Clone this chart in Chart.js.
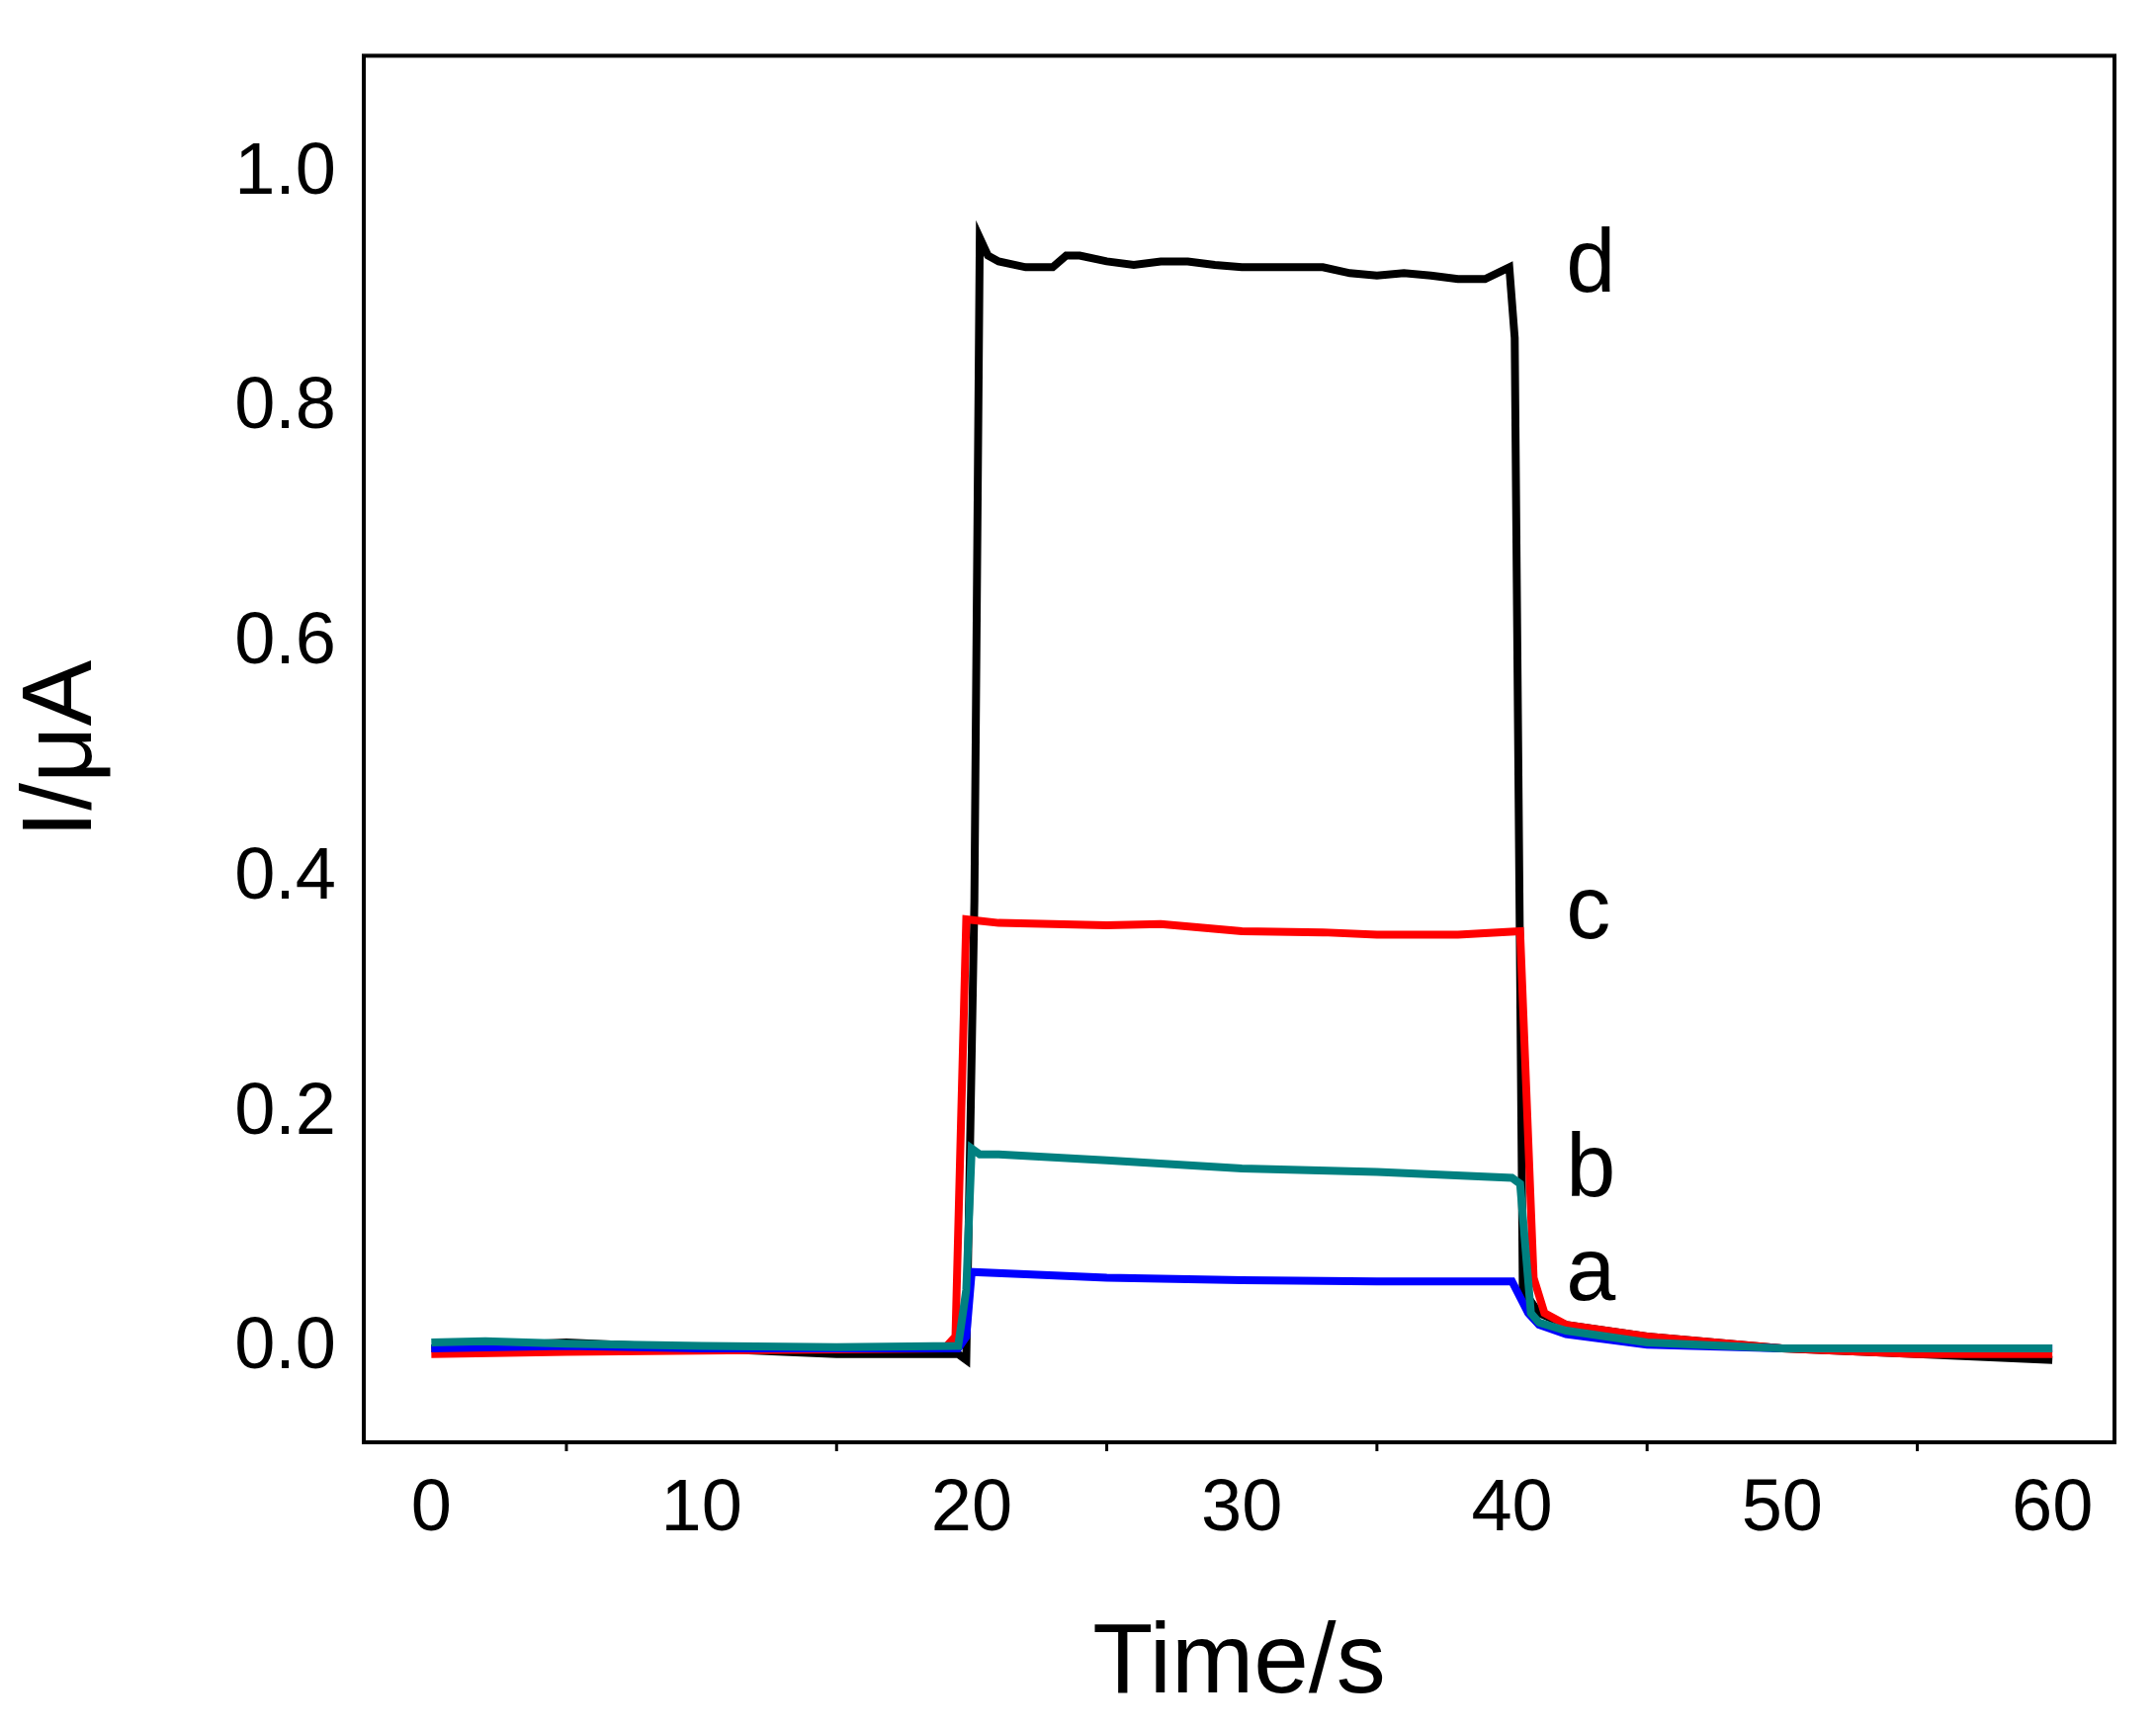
<!DOCTYPE html>
<html>
<head>
<meta charset="utf-8">
<script src="https://cdn.jsdelivr.net/npm/chart.js@4"></script>
<style>
  html, body { margin: 0; padding: 0; background: #fff; }
  #wrap { width: 2181px; height: 1748px; }
</style>
</head>
<body>
<div id="wrap"><canvas id="c" width="2181" height="1748"></canvas></div>
<script>
// --- data ---
const tA = [0, 5, 10, 15, 19.5, 19.8, 20, 22, 25, 30, 35, 40, 40.6, 41, 42, 45, 50, 55, 60];
const yA = [0, 0.002, 0, 0, 0, 0.01, 0.065, 0.063, 0.06, 0.058, 0.057, 0.057, 0.03, 0.02, 0.012, 0.003, 0, 0, 0];

const tB = [0, 2, 5, 10, 15, 19.5, 19.8, 20, 20.3, 21, 25, 30, 35, 40, 40.3, 40.7, 41, 42, 45, 50, 55, 60];
const yB = [0.005, 0.006, 0.004, 0.002, 0.001, 0.002, 0.05, 0.17, 0.165, 0.165, 0.16, 0.153, 0.15, 0.145, 0.14, 0.03, 0.022, 0.015, 0.005, 0, 0, 0];

const tC = [0, 5, 10, 15, 19, 19.4, 19.8, 21, 25, 27, 30, 33, 35, 38, 40.3, 40.8, 41.2, 42, 45, 50, 55, 60];
const yC = [-0.005, -0.003, -0.002, -0.001, 0, 0.01, 0.365, 0.362, 0.36, 0.361, 0.355, 0.354, 0.352, 0.352, 0.355, 0.06, 0.03, 0.02, 0.01, 0, -0.005, -0.005];

const tD = [0, 5, 10, 15, 19.5, 19.8, 20.1, 20.3, 20.6, 21, 22, 23, 23.5, 24, 25, 26, 27, 28, 29, 30, 31, 32, 33, 34, 35, 36, 37, 38, 39, 39.9, 40.1, 40.4, 41, 42, 45, 50, 55, 60];
const yD = [0, 0.005, 0, -0.005, -0.005, -0.01, 0.38, 0.945, 0.93, 0.925, 0.92, 0.92, 0.93, 0.93, 0.925, 0.922, 0.925, 0.925, 0.922, 0.92, 0.92, 0.92, 0.92, 0.915, 0.913, 0.915, 0.913, 0.91, 0.91, 0.92, 0.86, 0.05, 0.03, 0.02, 0.01, 0, -0.005, -0.01];

const curveLabels = [
  { text: 'd', x: 42, y: 0.92 },
  { text: 'c', x: 42, y: 0.37 },
  { text: 'b', x: 42, y: 0.15 },
  { text: 'a', x: 42, y: 0.062 }
];

const xTicks = [0, 10, 20, 30, 40, 50, 60];
const yTicks = [0.0, 0.2, 0.4, 0.6, 0.8, 1.0];

const FONT = '"Liberation Sans", Arial, sans-serif';
const pts = (t, y) => t.map((v, i) => ({ x: v, y: y[i] }));
const series = (label, t, y, color, order) => ({
  label, data: pts(t, y), borderColor: color, borderWidth: 8,
  pointRadius: 0, tension: 0, fill: false, order
});

// frame + minor ticks + curve letters
const extras = {
  id: 'extras',
  afterDraw(chart) {
    const { ctx, chartArea: a, scales: { x, y } } = chart;
    ctx.save();
    ctx.strokeStyle = '#000';
    ctx.lineWidth = 4;
    ctx.strokeRect(a.left, a.top, a.right - a.left, a.bottom - a.top);
    // minor x ticks
    ctx.lineWidth = 3;
    for (let v = 5; v < 60; v += 10) {
      const px = x.getPixelForValue(v);
      ctx.beginPath(); ctx.moveTo(px, a.bottom); ctx.lineTo(px, a.bottom + 9); ctx.stroke();
    }
    ctx.fillStyle = '#000';
    ctx.font = '90px ' + FONT;
    ctx.textBaseline = 'middle';
    curveLabels.forEach(l => ctx.fillText(l.text, x.getPixelForValue(l.x), y.getPixelForValue(l.y)));
    ctx.restore();
  }
};

new Chart(document.getElementById('c'), {
  type: 'line',
  data: {
    datasets: [
      series('a', tA, yA, '#0000ff', 2),
      series('b', tB, yB, '#008080', 1),
      series('c', tC, yC, '#ff0000', 3),
      series('d', tD, yD, '#000000', 4)
    ]
  },
  options: {
    responsive: false,
    animation: false,
    layout: { padding: { top: 10, right: 42 } },
    plugins: { legend: { display: false }, tooltip: { enabled: false } },
    scales: {
      x: {
        type: 'linear', min: -2.5, max: 62.3,
        afterBuildTicks: s => { s.ticks = xTicks.map(v => ({ value: v })); },
        afterFit: s => { s.height = 289; },
        grid: { display: false, drawOnChartArea: false, drawTicks: true, tickLength: 16, tickWidth: 4, tickColor: '#000' },
        border: { display: false },
        ticks: { color: '#000', font: { family: FONT, size: 74 }, padding: 8, maxRotation: 0 },
        title: { display: true, text: 'Time/s', color: '#000', font: { family: FONT, size: 100 }, padding: { top: 14 } }
      },
      y: {
        type: 'linear', min: -0.08, max: 1.1,
        afterBuildTicks: s => { s.ticks = yTicks.map(v => ({ value: v })); },
        afterFit: s => { s.width = 368; },
        grid: { display: false, drawOnChartArea: false, drawTicks: true, tickLength: 16, tickWidth: 4, tickColor: '#000' },
        border: { display: false },
        ticks: { color: '#000', font: { family: FONT, size: 74 }, padding: 12, callback: v => v.toFixed(1) },
        title: { display: true, text: 'I/μA', color: '#000', font: { family: FONT, size: 100 }, padding: { bottom: 30 } }
      }
    }
  },
  plugins: [extras]
});
</script>
</body>
</html>
